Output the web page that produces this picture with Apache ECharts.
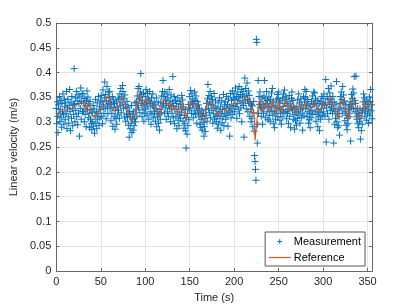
<!DOCTYPE html>
<html>
<head>
<meta charset="utf-8">
<script src="https://cdn.jsdelivr.net/npm/echarts@6/dist/echarts.min.js"></script>
<style>
html,body{margin:0;padding:0;background:#fff;}
#c{width:411px;height:308px;}
</style>
</head>
<body>
<div id="c"></div>
<script>
// Measurement samples every 0.5 s starting at t = 0 (m/s)
const measStep = 0.5;
const measurement = [
0.328,0.297,0.341,0.312,0.279,0.335,0.318,0.352,0.301,0.326,0.344,0.309,0.290,0.338,0.321,0.357,0.315,0.296,0.347,0.331,
0.305,0.339,0.318,0.362,0.287,0.329,0.346,0.311,0.298,0.334,0.366,0.322,0.283,0.341,0.308,0.352,0.327,0.293,0.337,0.316,
0.408,0.336,0.301,0.349,0.324,0.362,0.311,0.343,0.295,0.355,0.318,0.338,0.272,0.351,0.328,0.369,0.306,0.342,0.358,0.321,
0.357,0.322,0.339,0.301,0.348,0.316,0.333,0.291,0.344,0.363,0.326,0.351,0.309,0.337,0.318,0.289,0.342,0.306,0.325,0.297,
0.285,0.319,0.301,0.334,0.292,0.327,0.278,0.313,0.346,0.298,0.321,0.287,0.339,0.306,0.318,0.352,0.294,0.331,0.309,0.343,
0.326,0.354,0.312,0.341,0.297,0.365,0.335,0.318,0.349,0.381,0.328,0.356,0.307,0.343,0.372,0.331,0.317,0.361,0.338,0.349,
0.362,0.327,0.341,0.303,0.336,0.318,0.352,0.292,0.329,0.345,0.311,0.338,0.286,0.324,0.307,0.341,0.296,0.331,0.315,0.349,
0.324,0.346,0.308,0.357,0.333,0.368,0.319,0.351,0.339,0.374,0.362,0.328,0.347,0.311,0.355,0.336,0.302,0.329,0.316,0.342,
0.309,0.331,0.294,0.318,0.270,0.322,0.287,0.311,0.298,0.334,0.279,0.305,0.316,0.284,0.321,0.293,0.308,0.339,0.301,0.325,
0.341,0.312,0.353,0.334,0.368,0.329,0.372,0.347,0.319,0.361,0.398,0.338,0.356,0.311,0.344,0.325,0.359,0.302,0.336,0.318,
0.352,0.327,0.366,0.339,0.314,0.358,0.331,0.347,0.306,0.343,0.362,0.321,0.338,0.296,0.349,0.317,0.334,0.357,0.309,0.329,
0.341,0.318,0.335,0.302,0.327,0.349,0.291,0.322,0.311,0.339,0.298,0.315,0.284,0.326,0.306,0.341,0.319,0.353,0.333,0.362,
0.384,0.337,0.352,0.318,0.361,0.329,0.345,0.306,0.338,0.357,0.321,0.349,0.312,0.334,0.366,0.327,0.343,0.301,0.355,0.331,
0.318,0.341,0.392,0.309,0.333,0.352,0.297,0.326,0.344,0.312,0.338,0.287,0.321,0.349,0.304,0.331,0.293,0.315,0.342,0.308,
0.336,0.319,0.354,0.327,0.345,0.302,0.331,0.288,0.314,0.297,0.325,0.283,0.248,0.309,0.276,0.318,0.293,0.336,0.305,0.327,
0.352,0.329,0.364,0.341,0.318,0.357,0.335,0.347,0.309,0.338,0.323,0.361,0.344,0.316,0.353,0.331,0.298,0.342,0.327,0.319,
0.335,0.311,0.328,0.296,0.317,0.289,0.306,0.323,0.284,0.312,0.299,0.318,0.272,0.291,0.307,0.281,0.326,0.314,0.338,0.302,
0.347,0.376,0.328,0.354,0.319,0.341,0.362,0.309,0.336,0.351,0.324,0.346,0.298,0.333,0.317,0.358,0.306,0.329,0.343,0.312,
0.301,0.327,0.288,0.314,0.339,0.296,0.322,0.349,0.307,0.331,0.284,0.318,0.343,0.299,0.326,0.311,0.356,0.293,0.335,0.317,
0.341,0.306,0.328,0.352,0.314,0.336,0.292,0.347,0.319,0.331,0.272,0.323,0.358,0.309,0.344,0.327,0.363,0.316,0.349,0.334,
0.357,0.321,0.346,0.369,0.331,0.352,0.308,0.338,0.361,0.326,0.349,0.372,0.317,0.343,0.356,0.329,0.366,0.301,0.339,0.353,
0.362,0.334,0.270,0.351,0.389,0.343,0.368,0.327,0.357,0.379,0.346,0.321,0.363,0.338,0.354,0.312,0.341,0.326,0.301,0.335,
0.308,0.333,0.291,0.319,0.342,0.282,0.233,0.221,0.205,0.183,0.467,0.461,0.258,0.296,0.384,0.318,0.352,0.336,0.361,0.329,
0.341,0.312,0.327,0.349,0.296,0.335,0.318,0.353,0.384,0.331,0.347,0.309,0.338,0.362,0.321,0.344,0.305,0.329,0.351,0.314,
0.337,0.302,0.346,0.323,0.359,0.331,0.368,0.314,0.341,0.297,0.322,0.289,0.334,0.306,0.318,0.345,0.329,0.356,0.311,0.348,
0.361,0.327,0.339,0.304,0.318,0.343,0.296,0.325,0.311,0.349,0.332,0.357,0.319,0.365,0.338,0.351,0.322,0.346,0.307,0.334,
0.318,0.341,0.297,0.326,0.354,0.312,0.337,0.289,0.329,0.348,0.361,0.323,0.344,0.306,0.332,0.315,0.286,0.327,0.303,0.319,
0.294,0.331,0.308,0.345,0.322,0.357,0.314,0.339,0.298,0.326,0.347,0.309,0.335,0.318,0.284,0.329,0.352,0.313,0.341,0.366,
0.349,0.327,0.362,0.334,0.311,0.346,0.321,0.298,0.337,0.305,0.318,0.289,0.331,0.309,0.342,0.324,0.353,0.316,0.338,0.361,
0.336,0.359,0.321,0.347,0.302,0.333,0.316,0.344,0.291,0.325,0.311,0.338,0.283,0.319,0.306,0.342,0.327,0.352,0.314,0.336,
0.348,0.321,0.357,0.334,0.312,0.339,0.386,0.260,0.329,0.352,0.317,0.345,0.368,0.306,0.336,0.359,0.324,0.347,0.373,0.331,
0.339,0.318,0.352,0.327,0.258,0.341,0.296,0.322,0.308,0.335,0.382,0.301,0.317,0.289,0.326,0.293,0.311,0.274,0.338,0.352,
0.329,0.361,0.346,0.318,0.372,0.339,0.355,0.327,0.343,0.303,0.321,0.336,0.294,0.314,0.285,0.308,0.297,0.326,0.311,0.333,
0.318,0.341,0.262,0.329,0.356,0.336,0.348,0.367,0.327,0.359,0.392,0.344,0.321,0.338,0.393,0.311,0.306,0.328,0.297,0.318,
0.289,0.314,0.301,0.327,0.266,0.308,0.283,0.319,0.296,0.324,0.341,0.357,0.328,0.349,0.312,0.336,0.321,0.345,0.304,0.331,
0.317,0.339,0.298,0.326,0.351,0.314,0.342,0.366,0.323,0.335,0.307
];

// Reference trajectory (time in s, velocity in m/s)
const refTime = [0,2,4,6,8,10,12,14,16,18,20,22,24,26,28,30,32,33,35,36.5,38,40,42,44,46,48,50,52,54,56,58,60,62,64,66,68,70,72,74,75,77,79,81,83,85,86,88,90,92,93.6,95,97,98.5,100,102,104,106,108,110,112,114,116,118,121,123,125,128,130,132,134,136,138,140,142,144,145.7,148,151,153,155,158,160,162,164,166,168,170,172,174,176,178,180,181,183,185,188,190,192,194,196,198,199.5,201,203,205,207,209,211,213,214.6,216,217.6,219,220,222,223,223.5,224.5,225.5,227,229,231,232,234,236,238,240,242,243,245,247,249,250,252,254,256,258,260,262,264,266,268,270,272,274,276,277.5,279,281,283,285,287,289,291,293,295.5,298,300,302,304,305.6,307,309,311,313,315,317,319,320,322,324,326,328,330,332,334,335.5,337,339,341,343,345,346,348,350,352,354,355];
const refValue = [0.312,0.318,0.322,0.326,0.330,0.324,0.320,0.326,0.322,0.328,0.326,0.333,0.330,0.338,0.342,0.343,0.330,0.322,0.334,0.341,0.328,0.314,0.310,0.309,0.316,0.322,0.328,0.336,0.332,0.346,0.354,0.345,0.332,0.328,0.322,0.318,0.330,0.340,0.350,0.353,0.340,0.326,0.318,0.308,0.302,0.299,0.312,0.326,0.345,0.359,0.345,0.330,0.326,0.340,0.350,0.346,0.332,0.330,0.336,0.332,0.322,0.313,0.330,0.347,0.340,0.333,0.340,0.322,0.328,0.334,0.322,0.316,0.330,0.342,0.320,0.306,0.322,0.343,0.336,0.334,0.338,0.326,0.320,0.310,0.303,0.320,0.339,0.335,0.341,0.334,0.330,0.320,0.313,0.318,0.318,0.326,0.322,0.320,0.328,0.333,0.336,0.339,0.336,0.335,0.338,0.340,0.342,0.346,0.352,0.356,0.348,0.340,0.326,0.316,0.324,0.300,0.263,0.282,0.300,0.333,0.346,0.330,0.320,0.332,0.343,0.332,0.322,0.336,0.346,0.330,0.316,0.330,0.343,0.330,0.318,0.334,0.346,0.334,0.322,0.330,0.343,0.330,0.317,0.328,0.336,0.326,0.322,0.334,0.343,0.334,0.324,0.320,0.334,0.343,0.330,0.320,0.330,0.340,0.334,0.336,0.337,0.344,0.350,0.334,0.326,0.316,0.309,0.330,0.343,0.340,0.346,0.322,0.306,0.322,0.340,0.346,0.350,0.330,0.313,0.310,0.306,0.330,0.343,0.332,0.324,0.333,0.340,0.336];

const xTickStep = 50;
const yTickStep = 0.05;

const measData = measurement.map((v, i) => [i * measStep, v]);
const refData = refTime.map((t, i) => [t, refValue[i]]);

const chart = echarts.init(document.getElementById('c'), null, {renderer: 'canvas'});
const font = 'Liberation Sans, Arial, Helvetica, sans-serif';
const axisCol = '#666666';
const textCol = '#262626';
const plusPath = 'path://M0,5L10,5M5,0L5,10';
const legendPlusPath = 'path://M0,0M10,10M2,5L8,5M5,2L5,8';

function baseAxis(extra) {
  return Object.assign({
    type: 'value',
    axisLine: {show: true, onZero: false, lineStyle: {color: axisCol, width: 1}},
    axisTick: {show: true, inside: true, length: 3, lineStyle: {color: axisCol}},
    splitLine: {show: false},
  }, extra);
}

chart.setOption({
  animation: false,
  backgroundColor: '#fff',
  grid: {left: 53, right: 39, top: 23, bottom: 35},
  xAxis: [
    baseAxis({
      min: 0, max: 355, interval: xTickStep, position: 'bottom',
      name: 'Time (s)', nameLocation: 'middle', nameGap: 19,
      nameTextStyle: {fontFamily: font, fontSize: 11, color: textCol},
      axisLabel: {fontFamily: font, fontSize: 11, color: textCol, margin: 5,
        formatter: v => (Math.abs(v % xTickStep) < 1e-9 ? String(v) : '')},
      splitLine: {show: true, lineStyle: {color: '#e4e4e4', width: 1}}
    }),
    baseAxis({
      min: 0, max: 355, interval: xTickStep, position: 'top',
      axisLabel: {show: false}
    })
  ],
  yAxis: [
    baseAxis({
      min: 0, max: 0.5, interval: yTickStep, position: 'left',
      name: 'Linear velocity (m/s)', nameLocation: 'middle', nameGap: 27,
      nameTextStyle: {fontFamily: font, fontSize: 11, color: textCol},
      axisLabel: {fontFamily: font, fontSize: 11, color: textCol, margin: 5,
        formatter: v => String(+v.toFixed(2))},
      splitLine: {show: true, lineStyle: {color: '#e4e4e4', width: 1}}
    }),
    baseAxis({
      min: 0, max: 0.5, interval: yTickStep, position: 'right',
      axisLabel: {show: false}
    })
  ],
  legend: {
    orient: 'vertical',
    right: 46, bottom: 42,
    backgroundColor: '#fff',
    borderColor: '#555',
    borderWidth: 1,
    borderRadius: 0,
    padding: [4, 4, 3, 3],
    itemGap: 5,
    itemWidth: 22,
    itemHeight: 8,
    textStyle: {fontFamily: font, fontSize: 11, color: '#000', padding: [0, 0, 0, -2]},
    data: [
      {name: 'Measurement', icon: legendPlusPath, itemStyle: {color: 'rgba(0,0,0,0)', borderColor: '#0072BD', borderWidth: 1}},
      {name: 'Reference', itemStyle: {opacity: 0, color: 'rgba(0,0,0,0)', borderWidth: 0}, lineStyle: {color: '#D95319', width: 1.2}}
    ]
  },
  series: [
    {
      name: 'Measurement',
      type: 'scatter',
      data: measData,
      symbol: plusPath,
      symbolSize: 7,
      itemStyle: {color: 'rgba(0,0,0,0)', borderColor: '#0072BD', borderWidth: 1, opacity: 1},
      emphasis: {disabled: true},
      z: 2
    },
    {
      name: 'Reference',
      type: 'line',
      data: refData,
      symbol: 'none',
      showSymbol: false,
      lineStyle: {color: '#D95319', width: 1.1},
      itemStyle: {color: '#D95319'},
      emphasis: {disabled: true},
      z: 3
    }
  ]
});
</script>
</body>
</html>
